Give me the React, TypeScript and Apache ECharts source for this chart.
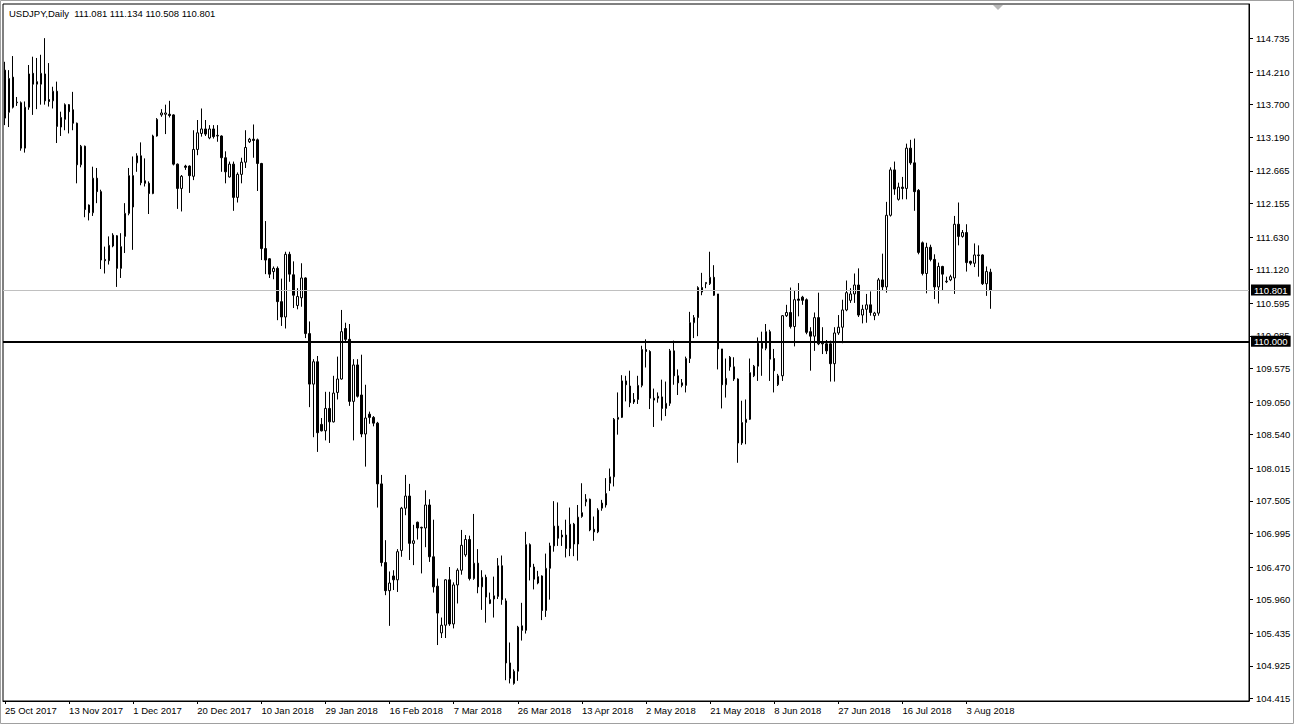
import React, { useEffect, useRef } from "react";
import * as echarts from "echarts";

// USDJPY daily bars, 25 Oct 2017 – 10 Aug 2018 (broker feed with Sunday bars)
const symbolName = "USDJPY";
const periodName = "Daily";

const opens = [
  114.24, 113.58, 114.13, 113.73, 113.73, 113.02, 113.66, 114.19, 114.02, 114.02,
  114.18, 113.78, 113.76, 113.91, 113.35, 113.47, 113.70, 113.62, 113.41, 112.76,
  113.05, 112.13, 112.01, 112.55, 112.34, 111.28, 111.26, 111.49, 111.65, 111.14,
  111.64, 112.00, 112.59, 112.79, 112.90, 112.51, 112.47, 112.31, 113.21, 113.54,
  113.55, 113.55, 113.54, 112.77, 112.39, 112.74, 112.74, 112.58, 113.00, 113.25,
  113.32, 113.18, 113.32, 113.21, 113.21, 112.87, 112.57, 112.77, 112.25, 112.61,
  112.80, 113.12, 113.16, 113.15, 112.78, 111.45, 111.29, 111.09, 111.14, 110.62,
  110.38, 111.36, 111.04, 110.56, 110.68, 110.99, 110.12, 109.33, 109.68, 108.70,
  108.60, 108.95, 108.74, 109.20, 109.41, 110.20, 110.03, 109.06, 109.63, 109.16,
  108.55, 108.86, 108.81, 108.72, 107.77, 106.54, 106.10, 106.33, 106.27, 106.73,
  107.39, 107.58, 106.84, 107.17, 107.08, 107.08, 107.44, 106.63, 106.17, 105.44,
  105.56, 106.27, 105.58, 106.19, 106.42, 106.66, 106.90, 106.29, 106.53, 106.16,
  106.31, 105.90, 105.97, 106.01, 106.49, 105.94, 104.97, 104.65, 104.84, 105.55,
  105.48, 106.82, 106.47, 106.22, 106.33, 105.79, 106.45, 106.80, 107.11, 106.97,
  106.97, 106.76, 107.14, 106.83, 107.26, 107.49, 107.53, 107.06, 107.02, 107.39,
  107.44, 107.78, 107.88, 108.78, 108.81, 109.38, 109.30, 109.05, 109.09, 109.31,
  109.87, 109.84, 109.11, 109.11, 109.13, 108.95, 109.03, 109.85, 109.46, 109.35,
  109.31, 109.73, 110.29, 110.37, 110.84, 110.90, 110.90, 111.00, 110.74, 109.88,
  109.32, 109.75, 109.60, 109.41, 108.41, 108.73, 108.78, 109.46, 109.61, 109.97,
  109.89, 110.15, 109.73, 109.32, 109.46, 110.40, 110.45, 110.23, 110.66, 110.69,
  110.65, 110.15, 110.08, 110.37, 109.98, 109.96, 109.96, 109.65, 110.13, 110.22,
  110.49, 110.64, 110.74, 110.88, 110.41, 110.50, 110.57, 110.40, 110.44, 110.96,
  110.85, 111.97, 112.68, 112.22, 112.41, 112.39, 113.02, 112.79, 112.36, 111.54,
  111.06, 111.47, 111.28, 110.85, 111.17, 110.93, 110.96, 110.99, 111.83, 111.64,
  111.70, 111.25, 111.22, 111.35, 111.35, 110.90, 111.081,
];

const highs = [
  114.37, 114.24, 114.46, 113.82, 113.75, 113.75, 114.32, 114.45, 114.43, 114.48,
  114.74, 114.35, 113.98, 114.06, 113.59, 113.72, 113.71, 113.90, 113.42, 113.07,
  113.06, 112.14, 112.73, 112.71, 112.37, 111.48, 111.64, 111.69, 111.66, 111.69,
  112.16, 112.71, 112.89, 112.94, 113.11, 112.86, 112.50, 113.23, 113.49, 113.63,
  113.70, 113.76, 113.55, 112.78, 112.60, 112.76, 112.75, 113.30, 113.46, 113.64,
  113.46, 113.38, 113.38, 113.38, 113.22, 112.97, 112.81, 112.81, 112.64, 112.87,
  113.30, 113.18, 113.39, 113.17, 112.79, 111.88, 111.30, 111.17, 111.17, 110.98,
  111.40, 111.40, 111.25, 110.83, 111.22, 111.00, 110.31, 109.72, 109.77, 108.80,
  109.21, 109.21, 109.46, 109.76, 110.49, 110.29, 110.27, 109.72, 109.72, 109.79,
  109.32, 108.90, 108.83, 108.74, 107.91, 106.89, 106.40, 106.42, 106.75, 107.41,
  107.91, 107.77, 107.13, 107.18, 107.10, 107.67, 107.53, 107.21, 106.29, 105.68,
  106.28, 106.47, 106.23, 106.45, 107.05, 106.97, 106.96, 107.30, 106.75, 106.42,
  106.35, 106.07, 106.32, 106.61, 106.65, 105.98, 105.29, 104.87, 105.55, 105.91,
  107.02, 106.84, 106.52, 106.41, 106.34, 106.68, 106.85, 107.50, 107.48, 107.05,
  107.21, 107.40, 107.16, 107.44, 107.78, 107.61, 107.54, 107.26, 107.39, 107.52,
  107.86, 108.01, 108.80, 109.20, 109.47, 109.46, 109.54, 109.19, 109.46, 109.93,
  110.03, 109.86, 109.26, 109.20, 109.40, 109.37, 109.88, 110.01, 109.56, 109.41,
  109.76, 110.46, 110.41, 110.86, 111.07, 110.92, 111.40, 111.19, 110.74, 109.88,
  109.73, 109.77, 109.75, 109.42, 109.07, 109.09, 109.73, 109.63, 110.06, 110.15,
  110.27, 110.18, 109.88, 109.49, 110.41, 110.57, 110.84, 110.80, 110.91, 110.71,
  110.67, 110.22, 110.45, 110.76, 110.22, 110.02, 110.01, 110.22, 110.41, 110.65,
  110.95, 110.83, 111.06, 111.14, 110.57, 110.74, 110.78, 110.46, 110.99, 111.37,
  112.18, 112.72, 112.81, 112.48, 112.57, 113.09, 113.15, 113.17, 112.38, 111.56,
  111.54, 111.51, 111.36, 111.23, 111.18, 111.01, 111.04, 111.96, 112.17, 111.74,
  111.83, 111.26, 111.53, 111.50, 111.36, 111.17, 111.134,
];

const lows = [
  113.38, 113.35, 113.64, 113.68, 112.98, 112.95, 113.62, 113.54, 113.63, 113.70,
  113.70, 113.67, 113.64, 113.10, 113.21, 113.30, 113.25, 113.30, 112.47, 112.72,
  111.94, 111.89, 111.96, 112.16, 111.13, 111.06, 111.20, 111.47, 110.85, 110.99,
  111.38, 111.97, 111.43, 112.65, 112.44, 112.42, 111.99, 112.30, 113.20, 113.51,
  113.24, 113.50, 112.75, 112.07, 112.03, 112.68, 112.32, 112.52, 112.91, 113.20,
  113.21, 113.16, 113.17, 113.12, 112.65, 112.47, 112.56, 112.04, 112.17, 112.47,
  112.71, 113.10, 112.87, 112.35, 111.27, 111.05, 110.99, 110.97, 110.33, 110.24,
  110.20, 110.93, 110.52, 110.50, 110.54, 110.05, 108.97, 108.50, 108.27, 108.59,
  108.45, 108.41, 108.73, 109.09, 109.40, 110.00, 108.99, 108.45, 109.12, 108.50,
  108.04, 108.71, 108.67, 107.40, 106.48, 106.03, 105.55, 106.11, 106.08, 106.63,
  107.28, 106.58, 106.50, 106.90, 106.37, 106.78, 106.55, 106.07, 105.25, 105.36,
  105.36, 105.55, 105.51, 105.90, 106.35, 106.63, 106.26, 106.27, 106.06, 105.80,
  105.60, 105.89, 105.68, 105.97, 105.88, 104.70, 104.65, 104.63, 104.69, 105.32,
  105.43, 106.26, 106.12, 106.20, 105.64, 105.69, 105.96, 106.71, 106.80, 106.80,
  106.62, 106.64, 106.64, 106.57, 107.24, 107.42, 107.03, 106.88, 107.00, 107.35,
  107.40, 107.66, 107.73, 108.54, 108.80, 109.06, 108.97, 109.02, 109.02, 109.28,
  109.59, 108.94, 108.66, 109.04, 108.76, 108.83, 108.99, 109.32, 109.16, 109.28,
  109.20, 109.66, 110.05, 110.08, 110.72, 110.83, 110.88, 110.71, 109.56, 108.95,
  109.12, 109.54, 109.38, 108.10, 108.38, 108.39, 108.77, 109.44, 109.38, 109.46,
  109.86, 109.38, 109.20, 109.30, 109.38, 110.38, 110.20, 109.92, 110.39, 110.57,
  110.11, 109.54, 109.85, 109.94, 109.80, 109.80, 109.37, 109.37, 110.10, 109.97,
  110.47, 110.60, 110.60, 110.38, 110.28, 110.29, 110.40, 110.33, 110.40, 110.79,
  110.76, 111.95, 112.29, 112.20, 112.22, 112.22, 112.76, 112.04, 111.36, 111.03,
  110.75, 111.25, 110.66, 110.59, 110.79, 110.91, 110.94, 110.74, 111.50, 111.62,
  111.09, 111.19, 111.16, 111.01, 110.88, 110.71, 110.508,
];

const closes = [
  113.49, 114.11, 113.66, 113.74, 113.02, 113.66, 114.18, 114.02, 114.06, 114.19,
  113.76, 113.75, 113.91, 113.36, 113.50, 113.70, 113.59, 113.41, 112.76, 113.05,
  112.06, 112.01, 112.55, 112.34, 111.27, 111.26, 111.50, 111.66, 111.14, 111.48,
  112.00, 112.59, 112.10, 112.90, 112.48, 112.47, 112.31, 113.21, 113.47, 113.57,
  113.57, 113.53, 112.77, 112.39, 112.58, 112.72, 112.59, 113.00, 113.26, 113.32,
  113.24, 113.32, 113.20, 113.22, 112.87, 112.65, 112.77, 112.25, 112.61, 112.80,
  113.03, 113.16, 113.14, 112.78, 111.45, 111.27, 111.05, 111.14, 110.62, 110.38,
  111.36, 111.05, 110.72, 110.70, 110.99, 110.12, 109.33, 109.68, 108.57, 108.60,
  108.95, 108.74, 109.19, 109.41, 110.15, 110.03, 109.06, 109.63, 109.14, 108.55,
  108.80, 108.81, 108.72, 107.77, 106.54, 106.10, 106.22, 106.27, 106.71, 107.39,
  107.58, 106.84, 106.88, 107.08, 107.09, 107.44, 106.63, 106.16, 105.75, 105.56,
  106.27, 105.58, 106.19, 106.42, 106.81, 106.90, 106.29, 106.53, 106.16, 106.31,
  106.00, 105.96, 106.02, 106.49, 105.96, 104.97, 104.73, 104.84, 105.53, 105.48,
  106.82, 106.47, 106.28, 106.32, 105.79, 106.45, 106.80, 107.11, 106.92, 106.94,
  106.76, 107.14, 106.83, 107.25, 107.32, 107.53, 107.05, 107.02, 107.36, 107.47,
  107.62, 107.88, 108.78, 108.81, 109.38, 109.32, 109.04, 109.09, 109.31, 109.87,
  109.84, 109.11, 109.08, 109.14, 108.95, 109.03, 109.85, 109.46, 109.35, 109.31,
  109.73, 110.29, 110.37, 110.84, 110.77, 110.92, 111.00, 110.72, 109.88, 109.32,
  109.42, 109.60, 109.41, 108.41, 108.73, 108.78, 109.51, 109.61, 109.97, 109.89,
  110.15, 109.72, 109.54, 109.46, 110.40, 110.45, 110.23, 110.65, 110.64, 110.64,
  110.14, 110.08, 110.37, 109.96, 109.96, 109.85, 109.65, 110.13, 110.22, 110.49,
  110.76, 110.74, 110.88, 110.41, 110.50, 110.57, 110.45, 110.44, 110.96, 110.85,
  111.97, 112.68, 112.38, 112.41, 112.39, 113.02, 112.79, 112.34, 111.39, 111.06,
  111.47, 111.28, 110.85, 111.17, 111.05, 110.94, 111.01, 111.83, 111.64, 111.70,
  111.23, 111.22, 111.35, 111.34, 110.90, 111.09, 110.801,
];

// Time scale: one label every 16 bars, starting at the first bar
const dateTicks = [
  "25 Oct 2017", "13 Nov 2017", "1 Dec 2017", "20 Dec 2017", "10 Jan 2018",
  "29 Jan 2018", "16 Feb 2018", "7 Mar 2018", "26 Mar 2018", "13 Apr 2018",
  "2 May 2018", "21 May 2018", "8 Jun 2018", "27 Jun 2018", "16 Jul 2018",
  "3 Aug 2018",
];
const barsPerDateTick = 16;

// Price scale labels
const priceTicks = [
  114.735, 114.21, 113.7, 113.19, 112.665, 112.155, 111.63, 111.12, 110.595,
  110.085, 109.575, 109.05, 108.54, 108.015, 107.505, 106.995, 106.47, 105.96,
  105.435, 104.925, 104.415,
];
const priceMin = 104.375;
const priceMax = 115.274;

// Horizontal level drawn across the chart
const levelPrice = 110.0;

// Bar slots on the time axis, including the empty shift area on the right
const totalSlots = 311;

const FONT = "Liberation Sans";
const FONT_SIZE = 9.5;

export default function App() {
  const ref = useRef<HTMLDivElement>(null);

  useEffect(() => {
    if (!ref.current) return;
    const chart = echarts.init(ref.current, null, { renderer: "svg" });

    const slots = Array.from({ length: totalSlots }, (_, i) => String(i));
    const candles = opens.map((o, i) => [o, closes[i], lows[i], highs[i]]);
    const last = opens.length - 1;
    const bid = closes[last];
    const isDateTick = (i: number) =>
      i % barsPerDateTick === 0 && i / barsPerDateTick < dateTicks.length;

    const header =
      `${symbolName},${periodName}\u00a0 ` +
      [opens[last], highs[last], lows[last], closes[last]]
        .map((v) => v.toFixed(3))
        .join(" ");

    const boxLabel = {
      show: true,
      position: "end",
      distance: 2,
      formatter: (p: any) => Number(p.value).toFixed(3),
      color: "#fff",
      backgroundColor: "#000",
      padding: [1, 3, 0, 3],
      fontFamily: FONT,
      fontSize: FONT_SIZE,
    };

    chart.setOption({
      animation: false,
      backgroundColor: "#fff",
      grid: {
        left: 3,
        top: 4,
        width: 1246,
        height: 697,
        show: true,
        borderColor: "#000",
        borderWidth: 1,
        backgroundColor: "#fff",
      },
      xAxis: {
        type: "category",
        data: slots,
        boundaryGap: true,
        axisLine: { show: true, lineStyle: { color: "#000", width: 1 } },
        axisTick: {
          show: true,
          alignWithLabel: true,
          interval: (i: number) => isDateTick(i),
          length: 3,
          lineStyle: { color: "#000" },
        },
        axisLabel: {
          interval: (i: number) => isDateTick(i),
          formatter: (_v: string, i: number) =>
            dateTicks[Math.round(i / barsPerDateTick)] ?? "",
          align: "left",
          margin: 4,
          color: "#000",
          fontFamily: FONT,
          fontSize: FONT_SIZE,
        },
        splitLine: { show: false },
      },
      yAxis: {
        type: "value",
        position: "right",
        min: priceMin,
        max: priceMax,
        axisLine: { show: true, lineStyle: { color: "#000", width: 1 } },
        axisTick: {
          show: true,
          customValues: priceTicks,
          length: 4,
          lineStyle: { color: "#000" },
        },
        axisLabel: {
          customValues: priceTicks,
          formatter: (v: number) => v.toFixed(3),
          margin: 7,
          color: "#000",
          fontFamily: FONT,
          fontSize: FONT_SIZE,
        },
        splitLine: { show: false },
      },
      series: [
        {
          type: "candlestick",
          data: candles,
          barWidth: 2,
          itemStyle: {
            color: "#fff",
            color0: "#000",
            borderColor: "#000",
            borderColor0: "#000",
            borderWidth: 1,
          },
          markLine: {
            silent: true,
            precision: 3,
            symbol: ["none", "none"],
            data: [
              {
                yAxis: bid,
                lineStyle: { color: "#c0c0c0", width: 1, type: "solid" },
                label: boxLabel,
              },
              {
                yAxis: levelPrice,
                lineStyle: { color: "#000", width: 2, type: "solid" },
                label: boxLabel,
              },
            ],
          },
        },
      ],
      graphic: [
        {
          type: "rect",
          shape: { x: 0.5, y: 0.5, width: 1293, height: 723 },
          style: { fill: "none", stroke: "#a0a0a0", lineWidth: 1 },
          silent: true,
          z: -1,
        },
        {
          type: "polygon",
          shape: { points: [[993, 5], [1003, 5], [998, 10]] },
          style: { fill: "#b8b8b8" },
          silent: true,
          z: 10,
        },
        {
          type: "text",
          left: 9,
          top: 8,
          style: {
            text: header,
            fill: "#000",
            font: `${FONT_SIZE}px "${FONT}"`,
          },
          z: 10,
        },
      ],
    });

    return () => chart.dispose();
  }, []);

  return (
    <div
      ref={ref}
      style={{ position: "fixed", left: 0, top: 0, width: 1294, height: 724 }}
    />
  );
}
